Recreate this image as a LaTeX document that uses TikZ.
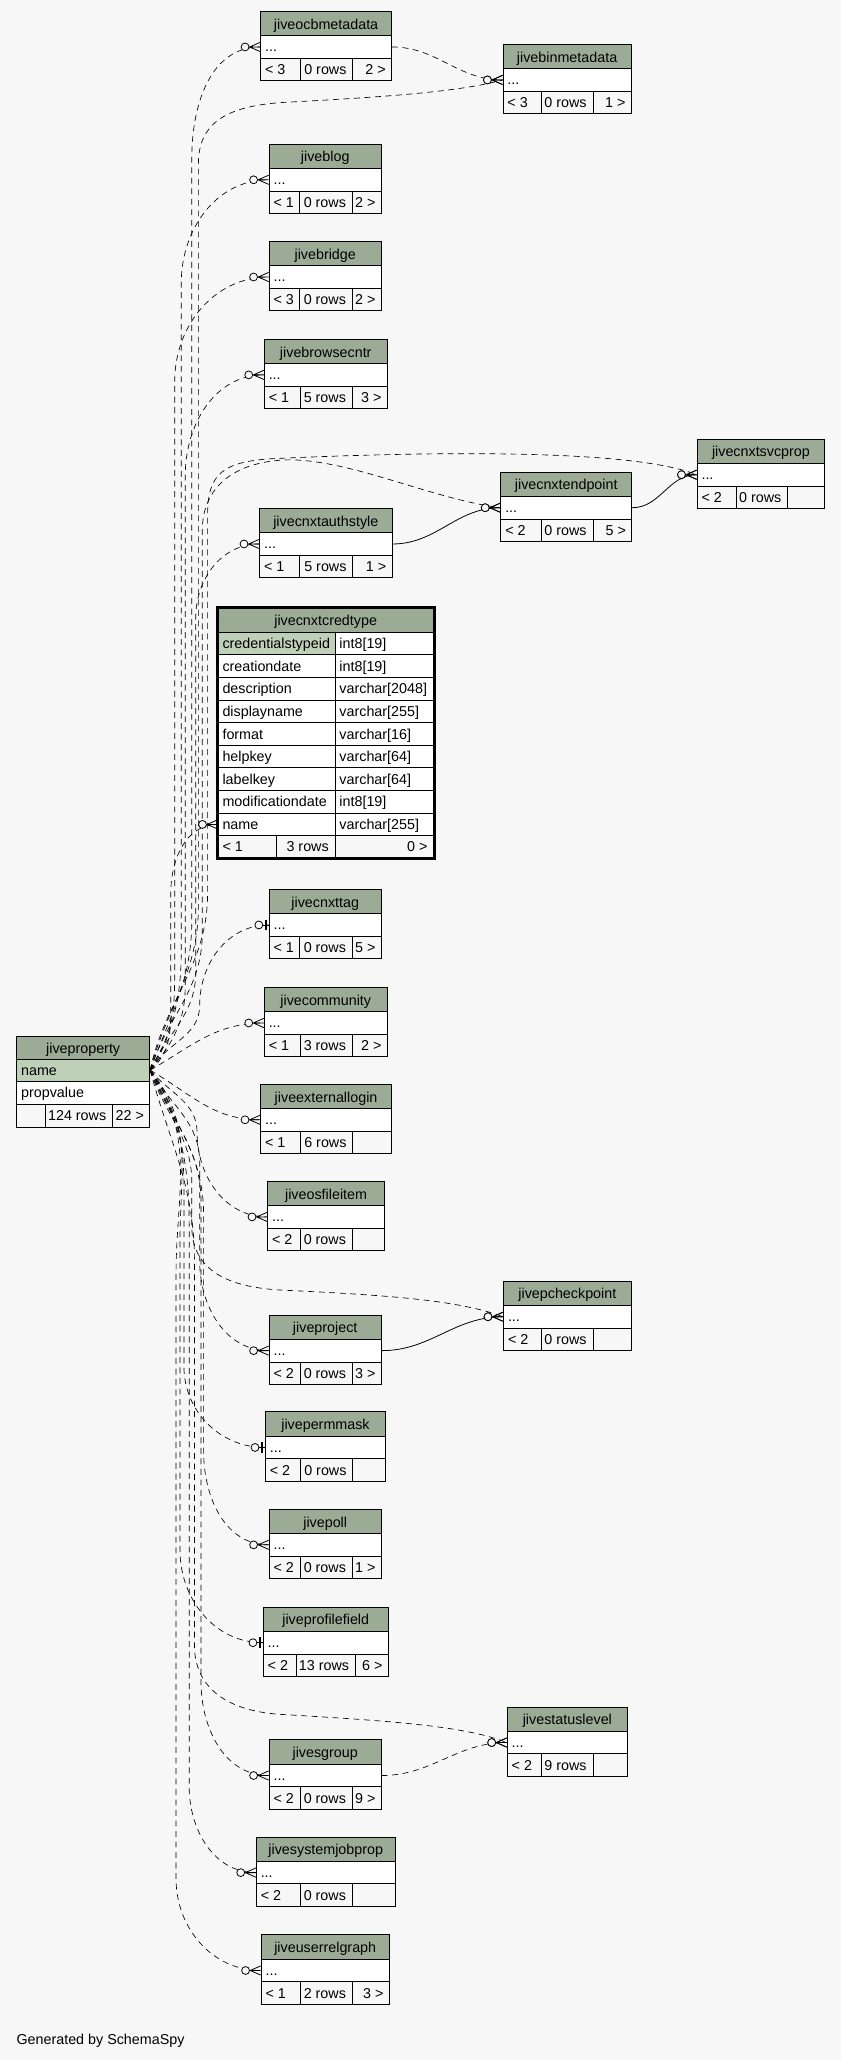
\documentclass[tikz,border=0pt]{standalone}
\usepackage{fontspec}
\setmainfont{Liberation Sans}
\definecolor{bgc}{HTML}{F7F7F7}
\definecolor{hdrc}{HTML}{9BAB96}
\definecolor{keyc}{HTML}{BED1B8}
\begin{document}
\begin{tikzpicture}[x=1pt, y=1pt, line width=0.75pt,
	font=\fontsize{10.9}{13}\selectfont,
	hdr/.style={draw, fill=hdrc, inner sep=0pt, minimum height=18.4pt, text height=9.6pt, text depth=1pt},
	cell/.style={draw, fill=white, inner sep=0pt, minimum height=17.3pt},
	txt/.style={inner sep=0pt, anchor=base west},
	impl/.style={line width=0.5pt, dash pattern=on 4.5pt off 3.5pt},
	fk/.style={line width=0.6pt},
	zmany/.pic={
		\draw[solid, line width=0.6pt, fill=bgc] (-11.5,0) circle (3);
		\draw[solid, line width=0.6pt] (-8.5,0) -- (0,0) (-8,0) -- (0,3.5) (-8,0) -- (0,-3.5);
	},
	zone/.pic={
		\draw[solid, line width=0.6pt, fill=bgc] (-7.5,0) circle (3);
		\draw[solid, line width=0.6pt] (-4.5,0) -- (0,0);
		\draw[solid, line width=1.4pt] (-2,-4) -- (-2,4);
	}]
	%background
	\fill[bgc] (0,0) rectangle (640,-1568);
	
	%small tables
	\foreach \id/\ttl/\xa/\xb/\yt/\da/\db/\fl/\fm/\fr in {
		ocb/jiveocbmetadata/198.4/298/8.7/228.6/268.6/< 3/0 rows/2 >,
		bin/jivebinmetadata/382.9/480.4/33.8/412.2/451.4/< 3/0 rows/1 >,
		blog/jiveblog/204.9/290.2/109.8/228.2/268.2/< 1/0 rows/2 >,
		bridge/jivebridge/204.9/290.2/183.8/228.2/268.2/< 3/0 rows/2 >,
		browse/jivebrowsecntr/201.2/294.7/258.3/228.6/268.2/< 1/5 rows/3 >,
		svc/jivecnxtsvcprop/530.6/627.8/334.3/560.4/599.6/< 2/0 rows/{},
		endp/jivecnxtendpoint/381.2/480.8/359.4/412.2/451.4/< 2/0 rows/5 >,
		auth/jivecnxtauthstyle/197.6/298.4/387/228.2/268.6/< 1/5 rows/1 >,
		tag/jivecnxttag/204.9/290.2/677/228.2/268.2/< 1/0 rows/5 >,
		comm/jivecommunity/201.2/294.7/751.6/228.6/268.2/< 1/3 rows/2 >,
		ext/jiveexternallogin/198.4/298/825.3/228.6/268.6/< 1/6 rows/{},
		osf/jiveosfileitem/203.7/292.7/899.2/228.6/268.2/< 2/0 rows/{},
		chk/jivepcheckpoint/383.3/480.4/975.2/412.2/451.4/< 2/0 rows/{},
		proj/jiveproject/204.9/290.2/1001/228.6/268.2/< 2/0 rows/3 >,
		perm/jivepermmask/202/293.5/1074.7/228.6/268.6/< 2/0 rows/{},
		poll/jivepoll/204.9/290.2/1148.8/228.6/268.2/< 2/0 rows/1 >,
		prof/jiveprofilefield/200.4/295.5/1223.3/225.7/270.6/< 2/13 rows/6 >,
		stat/jivestatuslevel/386.1/477.6/1299.3/412.2/451.4/< 2/9 rows/{},
		sgrp/jivesgroup/204.9/290.2/1324.4/228.6/268.2/< 2/0 rows/9 >,
		sys/jivesystemjobprop/195.1/300.8/1398.3/228.6/268.2/< 2/0 rows/{},
		urg/jiveuserrelgraph/198.8/296.3/1472.8/228.6/268.2/< 1/2 rows/3 >}{
		\node[hdr, minimum width={(\xb-\xa)*1pt}] (\id) at ({(\xa+\xb)/2}, -\yt-9.2) {\ttl};
		\node[cell, minimum width={(\xb-\xa)*1pt}] (\id-r) at ({(\xa+\xb)/2}, -\yt-27.05) {};
		\node[txt] (\id-d) at (\xa+3, -\yt-30.6) {...};
		\draw[fill=bgc] (\xa,-\yt-35.7) rectangle (\da,-\yt-52.9)
			(\da,-\yt-35.7) rectangle (\db,-\yt-52.9)
			(\db,-\yt-35.7) rectangle (\xb,-\yt-52.9);
		\node[txt] (\id-fl) at (\xa+3, -\yt-48.2) {\fl};
		\node[txt, anchor=base east] (\id-fm) at (\db-4.5, -\yt-48.2) {\fm};
		\node[txt, anchor=base east] (\id-fr) at (\xb-4, -\yt-48.2) {\fr};
	}
	
	%jiveproperty
	\node[hdr, minimum width=101.2pt, minimum height=17.4pt] (prop) at (63.3,-797.6) {jiveproperty};
	\node[cell, fill=keyc, minimum width=101.2pt, minimum height=16.6pt] (prop-name) at (63.3,-814.6) {};
	\node[txt] (prop-name-t) at (15.7,-818.4) {name};
	\node[cell, minimum width=101.2pt, minimum height=17.5pt] (prop-val) at (63.3,-831.65) {};
	\node[txt] (prop-val-t) at (15.7,-835.5) {propvalue};
	\draw[fill=bgc] (12.7,-840.4) rectangle (34.7,-857.9) (34.7,-840.4) rectangle (85.7,-857.9)
		(85.7,-840.4) rectangle (113.9,-857.9);
	\node[txt, anchor=base east] (prop-fm) at (81.2,-853.1) {124 rows};
	\node[txt, anchor=base east] (prop-fr) at (109.9,-853.1) {22 >};
	
	%jivecnxtcredtype
	\node[hdr, minimum width=163.8pt] (cred) at (247.9,-472.1) {jivecnxtcredtype};
	\foreach \cn/\ct/\fc [count=\i] in {credentialstypeid/int8[19]/keyc, creationdate/int8[19]/white,
		description/varchar[2048]/white, displayname/varchar[255]/white, format/varchar[16]/white,
		helpkey/varchar[64]/white, labelkey/varchar[64]/white, modificationdate/int8[19]/white,
		name/varchar[255]/white}{
		\node[cell, fill=\fc, minimum width=89.1pt, minimum height=17.2pt] (cred-\cn) at (210.55, {-489.9-(\i-1)*17.2}) {};
		\node[cell, minimum width=74.7pt, minimum height=17.2pt] (cred-\cn-c) at (292.45, {-489.9-(\i-1)*17.2}) {};
		\node[txt] (cred-\cn-l) at (169, {-493.8-(\i-1)*17.2}) {\cn};
		\node[txt] (cred-\cn-v) at (258, {-493.8-(\i-1)*17.2}) {\ct};
	}
	\draw[fill=bgc] (166,-636.1) rectangle (210.2,-652.6) (210.2,-636.1) rectangle (255.1,-652.6)
		(255.1,-636.1) rectangle (329.8,-652.6);
	\node[txt] (cred-fl) at (169,-648.3) {< 1};
	\node[txt, anchor=base east] (cred-fm) at (250.6,-648.3) {3 rows};
	\node[txt, anchor=base east] (cred-fr) at (325.8,-648.3) {0 >};
	\draw[line width=2pt] (165.1,-461.9) rectangle (330.8,-653.6);
	
	%relations from jiveproperty
	\draw[impl] (prop-name.east) to[out=70,in=-90] (146,-700) -- (146,-120) to[out=90,in=180] (ocb-r.west) pic{zmany};
	\draw[impl] (prop-name.east) to[out=75,in=-90] (151,-690) -- (151,-125) .. controls (151,-95) and (170,-81) .. (215,-78)
		.. controls (290,-74) and (350,-70) .. (bin-r.west) pic{zmany};
	\draw[impl] (prop-name.east) to[out=60,in=-90] (138,-720) -- (138,-215) to[out=90,in=180] (blog-r.west) pic{zmany};
	\draw[impl] (prop-name.east) to[out=55,in=-90] (133,-735) -- (133,-290) to[out=90,in=180] (bridge-r.west) pic{zmany};
	\draw[impl] (prop-name.east) to[out=50,in=-90] (141,-750) -- (141,-362) to[out=90,in=180] (browse-r.west) pic{zmany};
	\draw[impl] (prop-name.east) to[out=78,in=-90] (158,-680) -- (158,-392) .. controls (158,-360) and (170,-351) .. (210,-349)
		.. controls (320,-344) and (480,-341) .. (svc-r.west) pic{zmany};
	\draw[impl] (prop-name.east) to[out=72,in=-90] (154,-710) -- (154,-402) .. controls (155,-366) and (185,-350) .. (222,-350)
		.. controls (270,-351) and (330,-380) .. (endp-r.west) pic{zmany};
	\draw[impl] (prop-name.east) to[out=65,in=-90] (149,-740) -- (149,-470) to[out=90,in=180] (auth-r.west) pic{zmany};
	\draw[impl] (prop-name.east) to[out=40,in=-90] (130,-765) -- (130,-680) to[out=90,in=180] (cred-name.west) pic{zmany};
	\draw[impl] (prop-name.east) to[out=60,in=-90] (152,-765) to[out=90,in=180] (tag-r.west) pic{zone};
	\draw[impl] (prop-name.east) to[out=30,in=180] (comm-r.west) pic{zmany};
	\draw[impl] (prop-name.east) to[out=-30,in=180] (ext-r.west) pic{zmany};
	\draw[impl] (prop-name.east) to[out=-50,in=90] (150,-862) to[out=-90,in=180] (osf-r.west) pic{zmany};
	\draw[impl] (prop-name.east) to[out=-72,in=90] (146,-900) -- (146,-935) .. controls (147,-968) and (175,-980) .. (215,-982)
		.. controls (300,-986) and (350,-990) .. (chk-r.west) pic{zmany};
	\draw[impl] (prop-name.east) to[out=-60,in=90] (152,-885) -- (152,-960) to[out=-90,in=180] (proj-r.west) pic{zmany};
	\draw[impl] (prop-name.east) to[out=-55,in=90] (140,-905) -- (140,-1040) to[out=-90,in=180] (perm-r.west) pic{zone};
	\draw[impl] (prop-name.east) to[out=-65,in=90] (155,-925) -- (155,-1105) to[out=-90,in=180] (poll-r.west) pic{zmany};
	\draw[impl] (prop-name.east) to[out=-50,in=90] (137,-945) -- (137,-1180) to[out=-90,in=180] (prof-r.west) pic{zone};
	\draw[impl] (prop-name.east) to[out=-75,in=90] (148,-960) -- (148,-1255) .. controls (150,-1290) and (180,-1303) .. (215,-1305)
		.. controls (300,-1310) and (355,-1314) .. (stat-r.west) pic{zmany};
	\draw[impl] (prop-name.east) to[out=-68,in=90] (153,-915) -- (153,-1280) to[out=-90,in=180] (sgrp-r.west) pic{zmany};
	\draw[impl] (prop-name.east) to[out=-60,in=90] (144,-935) -- (144,-1360) to[out=-90,in=180] (sys-r.west) pic{zmany};
	\draw[impl] (prop-name.east) to[out=-55,in=90] (134,-970) -- (134,-1430) to[out=-90,in=180] (urg-r.west) pic{zmany};
	
	%other relations
	\draw[impl] (ocb-r.east) to[out=0,in=180] (bin-r.west) pic{zmany};
	\draw[fk] (endp-r.east) to[out=0,in=180] (svc-r.west) pic{zmany};
	\draw[fk] (auth-r.east) to[out=0,in=180] (endp-r.west) pic{zmany};
	\draw[fk] (proj-r.east) to[out=0,in=180] (chk-r.west) pic{zmany};
	\draw[impl] (sgrp-r.east) to[out=0,in=180] (stat-r.west) pic{zmany};
	
	\node[txt] (gen) at (12.2,-1556.5) {Generated by SchemaSpy};
\end{tikzpicture}
\end{document}
